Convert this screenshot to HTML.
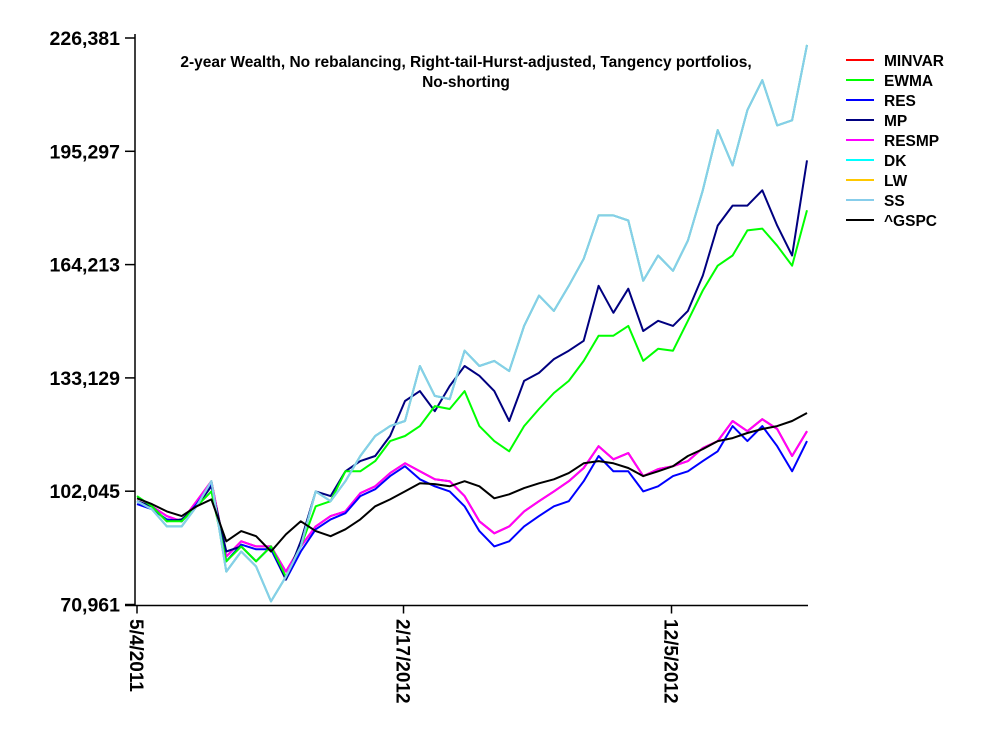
<!DOCTYPE html>
<html><head><meta charset="utf-8"><style>
body{margin:0;background:#fff;}
svg text{font-family:"Liberation Sans",Arial,sans-serif;font-weight:bold;}
</style></head><body>
<svg id="chart" width="1000" height="750" xmlns="http://www.w3.org/2000/svg">
<rect width="1000" height="750" fill="#fff"/>
<text x="466" y="67" font-size="15.5" text-anchor="middle">2-year Wealth, No rebalancing, Right-tail-Hurst-adjusted, Tangency portfolios,</text>
<text x="466" y="87" font-size="15.5" text-anchor="middle">No-shorting</text>
<g id="axes"></g>
<g id="series"></g>
<g id="legend"></g>
</svg>
<script>
// values in thousands
const yTicks = [70961, 102045, 133129, 164213, 195297, 226381];
const xTickLabels = ["5/4/2011", "2/17/2012", "12/5/2012"];
const xTickIdx = [0, 17.9, 35.9];
const seriesNames = ["MINVAR","EWMA","RES","MP","RESMP","DK","LW","SS","^GSPC"];
const seriesColors = ["#ff0000","#00ff00","#0000ff","#000080","#ff00ff","#00ffff","#ffc800","#87cdea","#000000"];
const gspc = [100.1,98.5,96.5,95.2,97.9,99.8,88.3,91.1,89.7,85.5,90.2,93.8,91.1,89.7,91.6,94.3,97.9,99.8,102.0,104.2,104.0,103.4,104.8,103.4,100.1,101.2,102.9,104.2,105.3,107.0,109.7,110.3,109.7,108.4,106.2,107.5,108.9,111.7,113.6,115.8,116.6,118.0,119.1,119.9,121.3,123.5];
const resmp = [99.3,97.9,95.2,93.8,99.3,104.8,84.1,88.3,86.9,86.9,80.0,86.9,92.4,95.2,96.5,101.5,103.4,107.0,109.7,107.5,105.3,104.8,100.7,93.8,90.5,92.4,96.5,99.3,102.0,104.8,108.4,114.4,110.8,112.5,106.2,108.1,108.9,110.3,113.9,115.8,121.3,118.5,121.8,119.1,111.7,118.5];
const minvar = resmp.slice();
const res = [98.5,97.1,94.3,93.8,98.5,104.0,82.8,87.4,86.1,86.1,77.8,85.5,91.6,94.3,96.0,100.7,102.6,106.2,108.9,105.3,103.4,102.0,97.9,91.1,86.9,88.3,92.4,95.2,97.9,99.3,104.8,111.7,107.5,107.5,102.0,103.4,106.2,107.5,110.3,113.0,119.9,115.8,119.9,114.4,107.5,115.8];
const mp = [99.3,97.9,93.8,94.3,97.9,103.4,85.5,86.9,82.8,86.9,77.8,88.3,102.0,100.7,107.5,110.3,111.7,117.2,126.8,129.5,124.0,130.9,136.4,133.7,129.5,121.3,132.3,134.5,138.3,140.6,143.3,158.4,151.0,157.6,146.0,148.8,147.4,151.5,161.2,174.9,180.4,180.4,184.6,174.9,166.7,192.8];
const ewma = [100.7,97.9,93.8,93.8,97.9,102.0,82.8,86.9,82.8,86.9,78.6,86.9,97.9,99.3,107.5,107.5,110.3,115.8,117.2,119.9,125.4,124.6,129.5,119.9,115.8,113.0,119.9,124.6,129.0,132.3,137.8,144.7,144.7,147.4,137.8,141.1,140.6,148.8,157.1,163.9,166.7,173.6,174.1,169.4,163.9,179.1];
const ss = [99.3,97.1,92.4,92.4,97.9,104.8,80.0,85.5,81.4,71.8,78.6,86.9,102.0,99.3,104.8,111.7,117.2,119.9,121.3,136.4,128.2,127.3,140.6,136.4,137.8,135.0,147.4,155.7,151.5,158.4,165.8,177.7,177.7,176.3,159.8,166.7,162.5,170.8,184.6,201.1,191.4,206.6,214.8,202.4,203.8,224.5];
const dk = ss.slice();
const lw = ss.slice();
const seriesData = [minvar, ewma, res, mp, resmp, dk, lw, ss, gspc];
const drawOrder = [0,4,2,3,1,6,5,7,8];

const NS = "http://www.w3.org/2000/svg";
const X0 = 137, X1 = 807, Y0 = 604.5, Y1 = 38;
const N = gspc.length;
function xScale(i){ return X0 + i * (X1 - X0) / (N - 1); }
function yScale(v){ return Y0 - (v * 1000 - yTicks[0]) / (yTicks[yTicks.length-1] - yTicks[0]) * (Y0 - Y1); }
function mk(tag, attrs, parent){ const e = document.createElementNS(NS, tag); for (const k in attrs) e.setAttribute(k, attrs[k]); parent.appendChild(e); return e; }

const axes = document.getElementById('axes');
let ya = mk('line', {x1:135, y1:Y1-4, x2:135, y2:Y0+1, stroke:'#000', 'stroke-width':1.5}, axes);


let xa = mk('line', {x1:125, y1:Y0+1, x2:X1+1, y2:Y0+1, stroke:'#000', 'stroke-width':1.5}, axes);


yTicks.forEach(t => {
  const y = yScale(t / 1000);
  mk('line', {x1:125, y1:y, x2:135, y2:y, stroke:'#000', 'stroke-width':1.5}, axes);
  const tx = mk('text', {x:120, y:y+7, 'font-size':19.5, 'text-anchor':'end'}, axes);
  tx.textContent = t.toLocaleString('en-US');
  
  
});
xTickLabels.forEach((lab, k) => {
  const x = xScale(xTickIdx[k]);
  mk('line', {x1:x, y1:Y0+1, x2:x, y2:Y0+9, stroke:'#000', 'stroke-width':1.5}, axes);
  const tx = mk('text', {x:0, y:0, 'font-size':19, transform:`translate(${x-7},619) rotate(90)`}, axes);
  tx.textContent = lab;
  
  
});

const sg = document.getElementById('series');
drawOrder.forEach(s => {
  const d = seriesData[s].map((v, i) => (i ? 'L' : 'M') + xScale(i).toFixed(1) + ' ' + yScale(v).toFixed(1)).join(' ');
  const p = mk('path', {d, fill:'none', stroke:seriesColors[s], 'stroke-width':2, 'stroke-linejoin':'round'}, sg);
  
  
});

const lg = document.getElementById('legend');
seriesNames.forEach((n, i) => {
  const y = 60 + i * 20;
  const g = mk('g', {}, lg);
  
  
  mk('line', {x1:846, y1:y, x2:874, y2:y, stroke:seriesColors[i], 'stroke-width':2}, g);
  const t = mk('text', {x:884, y:y+6, 'font-size':15.5}, g);
  t.textContent = n;
});
</script>
</body></html>
